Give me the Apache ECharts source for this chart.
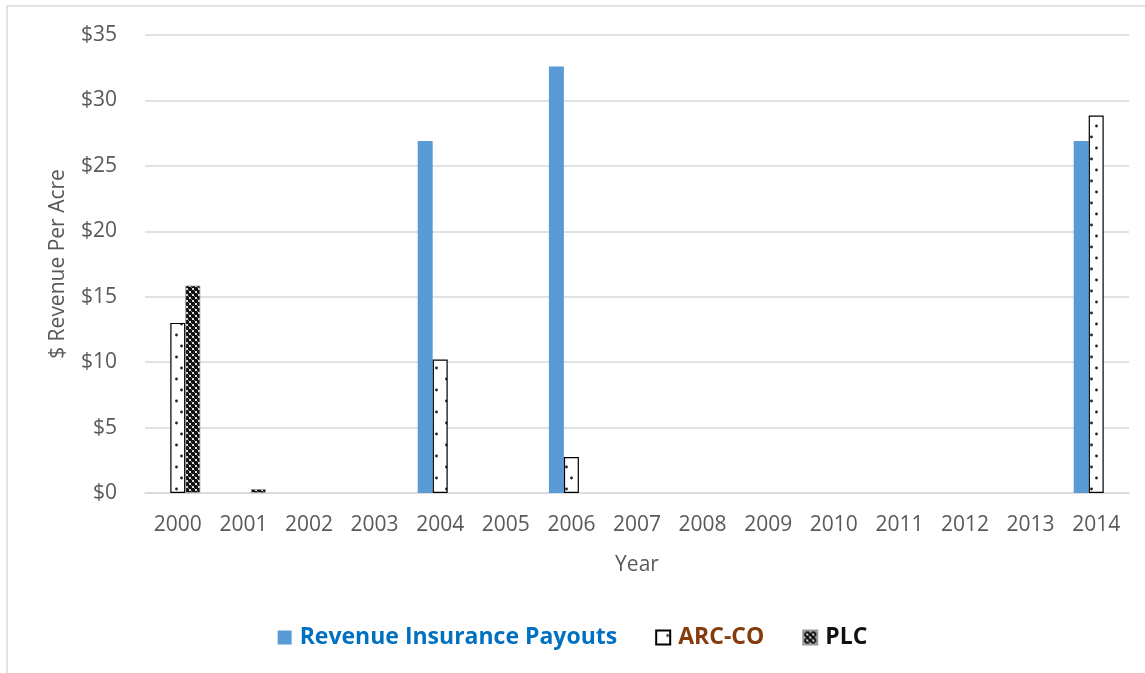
<!DOCTYPE html>
<html>
<head>
<meta charset="utf-8">
<script src="https://cdn.jsdelivr.net/npm/echarts@6/dist/echarts.min.js"></script>
<style>
  html, body { margin: 0; padding: 0; background: #fff; }
  #chartsDiv { width: 1145px; height: 673px; }
</style>
</head>
<body>
<div id="chartsDiv"></div>
<script>
const years = ['2000', '2001', '2002', '2003', '2004', '2005', '2006', '2007', '2008', '2009', '2010', '2011', '2012', '2013', '2014']
// Revenue Insurance Payouts
const revenuePay = [0, 0, 0, 0, 26.9, 0, 32.6, 0, 0, 0, 0, 0, 0, 0, 26.9]
// ARC-CO
const arcCo = [13.0, 0, 0, 0, 10.2, 0, 2.75, 0, 0, 0, 0, 0, 0, 0, 28.85]
// PLC
const plc = [15.85, 0.3, 0, 0, 0, 0, 0, 0, 0, 0, 0, 0, 0, 0, 0]
const yTicks = [0, 5, 10, 15, 20, 25, 30, 35]

const font = "'Open Sans', sans-serif"

// zero years have no bar
const noZero = arr => arr.map(v => (v === 0 ? '-' : v))

// sparse dots pattern for ARC-CO
function dotsPattern() {
  const c = document.createElement('canvas')
  c.width = 15; c.height = 22
  const ctx = c.getContext('2d')
  ctx.fillStyle = '#fff'
  ctx.fillRect(0, 0, 15, 22)
  ctx.fillStyle = '#222'
  ctx.beginPath(); ctx.arc(11.5, 5, 1.4, 0, Math.PI * 2); ctx.fill()
  ctx.beginPath(); ctx.arc(1.5, 16, 1.4, 0, Math.PI * 2); ctx.fill()
  return c
}

// dense diamond check pattern for PLC
function checkPattern() {
  const c = document.createElement('canvas')
  c.width = 6; c.height = 6
  const ctx = c.getContext('2d')
  ctx.fillStyle = '#111'
  ctx.fillRect(0, 0, 6, 6)
  ctx.fillStyle = '#ddd'
  ctx.fillRect(0, 0, 2, 2)
  ctx.fillRect(3, 3, 2, 2)
  ctx.fillStyle = '#777'
  ctx.fillRect(2, 2, 1, 1)
  ctx.fillRect(5, 5, 1, 1)
  return c
}

let option = {
  animation: false,
  backgroundColor: '#fff',
  textStyle: { fontFamily: font },
  graphic: [
    {
      type: 'rect',
      shape: { x: 7, y: 6, width: 1200, height: 720 },
      style: { fill: 'none', stroke: '#D9D9D9', lineWidth: 1.5 },
      z: -10
    }
  ],
  grid: { left: 145, right: 16, top: 35, bottom: 180 },
  legend: {
    top: 621,
    left: 'center',
    icon: 'rect',
    itemWidth: 14,
    itemHeight: 14,
    itemGap: 38,
    textStyle: { fontFamily: font, fontSize: 23, fontWeight: 'bold', padding: [0, 0, 0, 3] },
    data: [
      { name: 'Revenue Insurance Payouts', textStyle: { color: '#0070C0' } },
      { name: 'ARC-CO', textStyle: { color: '#843C0C' } },
      { name: 'PLC', textStyle: { color: '#111' } }
    ]
  },
  xAxis: {
    type: 'category',
    data: years,
    name: 'Year',
    nameLocation: 'middle',
    nameGap: 62,
    nameTextStyle: { color: '#595959', fontSize: 21, fontFamily: font },
    axisTick: { show: false },
    axisLine: { lineStyle: { color: '#D9D9D9', width: 1.5 } },
    axisLabel: { color: '#595959', fontSize: 21, margin: 22, fontFamily: font }
  },
  yAxis: {
    type: 'value',
    min: yTicks[0],
    max: yTicks[yTicks.length - 1],
    interval: 5,
    name: '$ Revenue Per Acre',
    nameLocation: 'middle',
    nameGap: 76,
    nameTextStyle: { color: '#595959', fontSize: 21, fontFamily: font },
    axisLabel: {
      color: '#595959',
      fontSize: 21,
      margin: 28,
      fontFamily: font,
      formatter: v => '$' + v
    },
    splitLine: { lineStyle: { color: '#D9D9D9', width: 1.5 } }
  },
  series: [
    {
      name: 'Revenue Insurance Payouts',
      type: 'bar',
      barWidth: 15,
      barGap: '0%',
      itemStyle: { color: '#5B9BD5' },
      data: noZero(revenuePay)
    },
    {
      name: 'ARC-CO',
      type: 'bar',
      barWidth: 15,
      barGap: '0%',
      itemStyle: {
        color: { image: dotsPattern(), repeat: 'repeat' },
        borderColor: '#000',
        borderWidth: 1.2
      },
      data: noZero(arcCo)
    },
    {
      name: 'PLC',
      type: 'bar',
      barWidth: 15,
      barGap: '0%',
      itemStyle: {
        color: { image: checkPattern(), repeat: 'repeat' },
        borderColor: '#999',
        borderWidth: 0.8
      },
      data: noZero(plc)
    }
  ]
}

let Echarts = echarts.init(document.getElementById('chartsDiv'))
Echarts.setOption(option)
</script>
</body>
</html>
